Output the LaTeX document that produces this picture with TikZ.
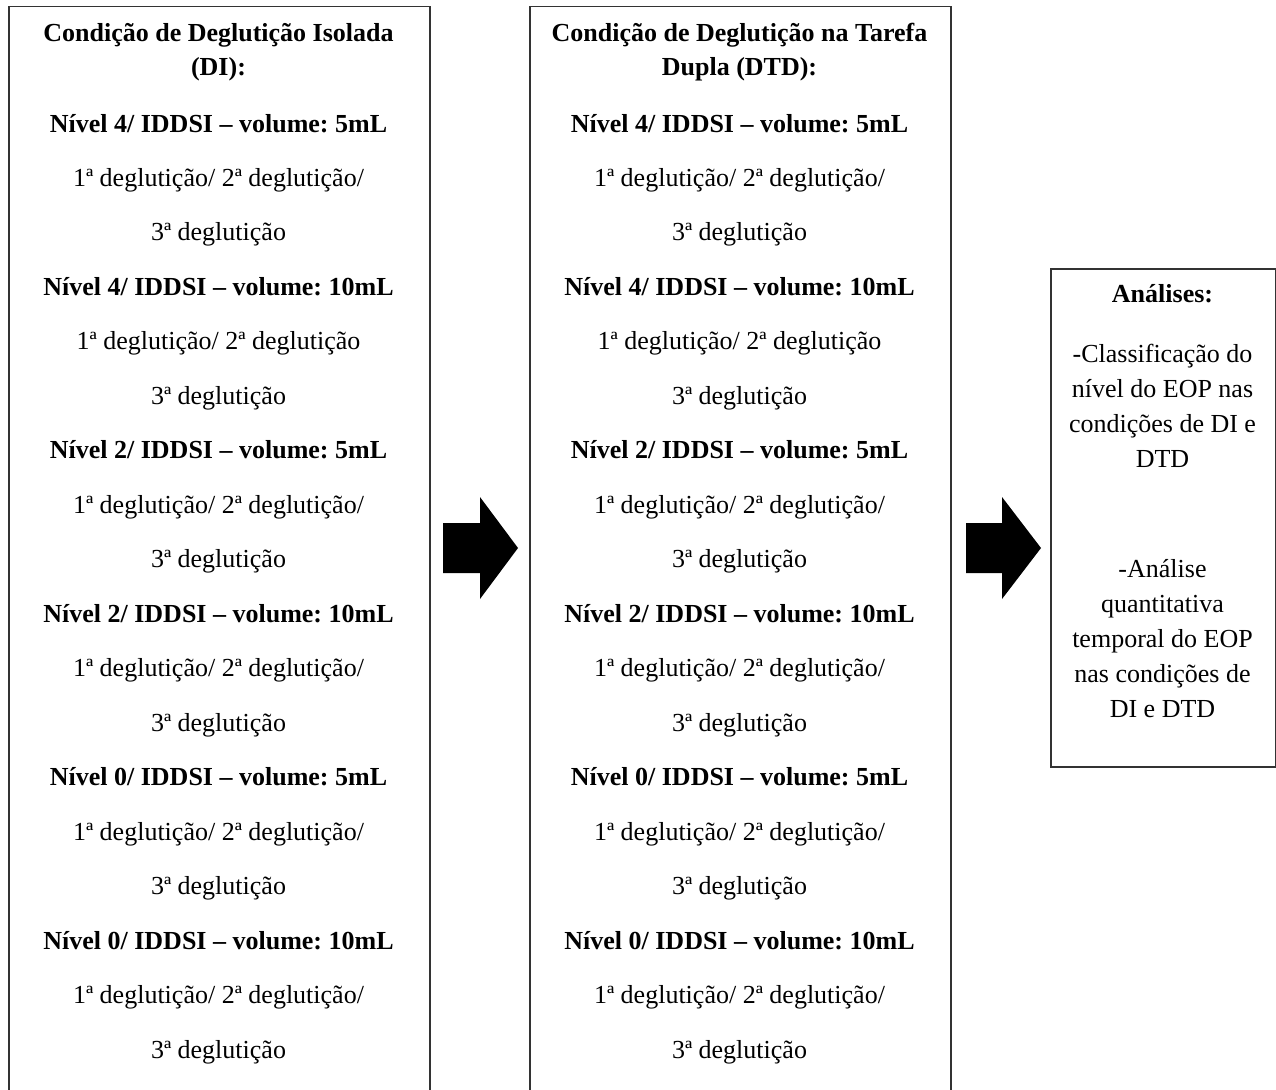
\documentclass[tikz,border=0pt]{standalone}
\usepackage{fontspec}
\setmainfont{Liberation Serif}
\frenchspacing
\begin{document}
\frenchspacing
\begin{tikzpicture}[x=1pt,y=-1pt,
  box/.style={draw=black!80, line width=1.5pt, rectangle, anchor=north west, inner sep=0pt},
  bt/.style={font=\fontsize{26}{26}\selectfont\bfseries\frenchspacing, anchor=base, inner sep=0pt},
  rt/.style={font=\fontsize{26}{26}\selectfont\frenchspacing, anchor=base, inner sep=0pt},
  blockarrow/.style={fill=black}]
\useasboundingbox (0,0) rectangle (1276,1089);
\clip (0,0) rectangle (1276,1089);
\fill[white] (0,0) rectangle (1276,1089);
% boxes
\node[box, minimum width=421pt, minimum height=1110pt] (di) at (8,6) {};
\node[box, minimum width=421pt, minimum height=1110pt] (dtd) at (529,6) {};
\node[box, minimum width=225pt, minimum height=498pt] (an) at (1050,268) {};
% block arrows
\fill[blockarrow] (443,523) -- (480,523) -- (480,497) -- (518,548) -- (480,599) -- (480,573) -- (443,573) -- cycle;
\fill[blockarrow] (966,523) -- (1002,523) -- (1002,497) -- (1041,548) -- (1002,599) -- (1002,573) -- (966,573) -- cycle;
% left column
\node[bt] (a01) at (218.5,42) {Condição de Deglutição Isolada};
\node[bt] (a02) at (218.5,76) {(DI):};
\node[bt] (a1) at (218.5,132.0) {Nível 4/ IDDSI – volume: 5mL};
\node[rt] (a2) at (218.5,186.5) {1ª deglutição/ 2ª deglutição/};
\node[rt] (a3) at (218.5,240.9) {3ª deglutição};
\node[bt] (a4) at (218.5,295.4) {Nível 4/ IDDSI – volume: 10mL};
\node[rt] (a5) at (218.5,349.9) {1ª deglutição/ 2ª deglutição};
\node[rt] (a6) at (218.5,404.4) {3ª deglutição};
\node[bt] (a7) at (218.5,458.8) {Nível 2/ IDDSI – volume: 5mL};
\node[rt] (a8) at (218.5,513.3) {1ª deglutição/ 2ª deglutição/};
\node[rt] (a9) at (218.5,567.8) {3ª deglutição};
\node[bt] (a10) at (218.5,622.2) {Nível 2/ IDDSI – volume: 10mL};
\node[rt] (a11) at (218.5,676.7) {1ª deglutição/ 2ª deglutição/};
\node[rt] (a12) at (218.5,731.2) {3ª deglutição};
\node[bt] (a13) at (218.5,785.6) {Nível 0/ IDDSI – volume: 5mL};
\node[rt] (a14) at (218.5,840.1) {1ª deglutição/ 2ª deglutição/};
\node[rt] (a15) at (218.5,894.6) {3ª deglutição};
\node[bt] (a16) at (218.5,949.0) {Nível 0/ IDDSI – volume: 10mL};
\node[rt] (a17) at (218.5,1003.5) {1ª deglutição/ 2ª deglutição/};
\node[rt] (a18) at (218.5,1058.0) {3ª deglutição};
% middle column
\node[bt] (b01) at (739.5,42) {Condição de Deglutição na Tarefa};
\node[bt] (b02) at (739.5,76) {Dupla (DTD):};
\node[bt] (b1) at (739.5,132.0) {Nível 4/ IDDSI – volume: 5mL};
\node[rt] (b2) at (739.5,186.5) {1ª deglutição/ 2ª deglutição/};
\node[rt] (b3) at (739.5,240.9) {3ª deglutição};
\node[bt] (b4) at (739.5,295.4) {Nível 4/ IDDSI – volume: 10mL};
\node[rt] (b5) at (739.5,349.9) {1ª deglutição/ 2ª deglutição};
\node[rt] (b6) at (739.5,404.4) {3ª deglutição};
\node[bt] (b7) at (739.5,458.8) {Nível 2/ IDDSI – volume: 5mL};
\node[rt] (b8) at (739.5,513.3) {1ª deglutição/ 2ª deglutição/};
\node[rt] (b9) at (739.5,567.8) {3ª deglutição};
\node[bt] (b10) at (739.5,622.2) {Nível 2/ IDDSI – volume: 10mL};
\node[rt] (b11) at (739.5,676.7) {1ª deglutição/ 2ª deglutição/};
\node[rt] (b12) at (739.5,731.2) {3ª deglutição};
\node[bt] (b13) at (739.5,785.6) {Nível 0/ IDDSI – volume: 5mL};
\node[rt] (b14) at (739.5,840.1) {1ª deglutição/ 2ª deglutição/};
\node[rt] (b15) at (739.5,894.6) {3ª deglutição};
\node[bt] (b16) at (739.5,949.0) {Nível 0/ IDDSI – volume: 10mL};
\node[rt] (b17) at (739.5,1003.5) {1ª deglutição/ 2ª deglutição/};
\node[rt] (b18) at (739.5,1058.0) {3ª deglutição};
% right box
\node[bt] (c0) at (1162.5,302) {Análises:};
\node[rt] (c1) at (1162.5,362) {-Classificação do};
\node[rt] (c2) at (1162.5,397) {nível do EOP nas};
\node[rt] (c3) at (1162.5,432) {condições de DI e};
\node[rt] (c4) at (1162.5,467) {DTD};
\node[rt] (c5) at (1162.5,577) {-Análise};
\node[rt] (c6) at (1162.5,612) {quantitativa};
\node[rt] (c7) at (1162.5,647) {temporal do EOP};
\node[rt] (c8) at (1162.5,682) {nas condições de};
\node[rt] (c9) at (1162.5,717) {DI e DTD};
\end{tikzpicture}
\end{document}
